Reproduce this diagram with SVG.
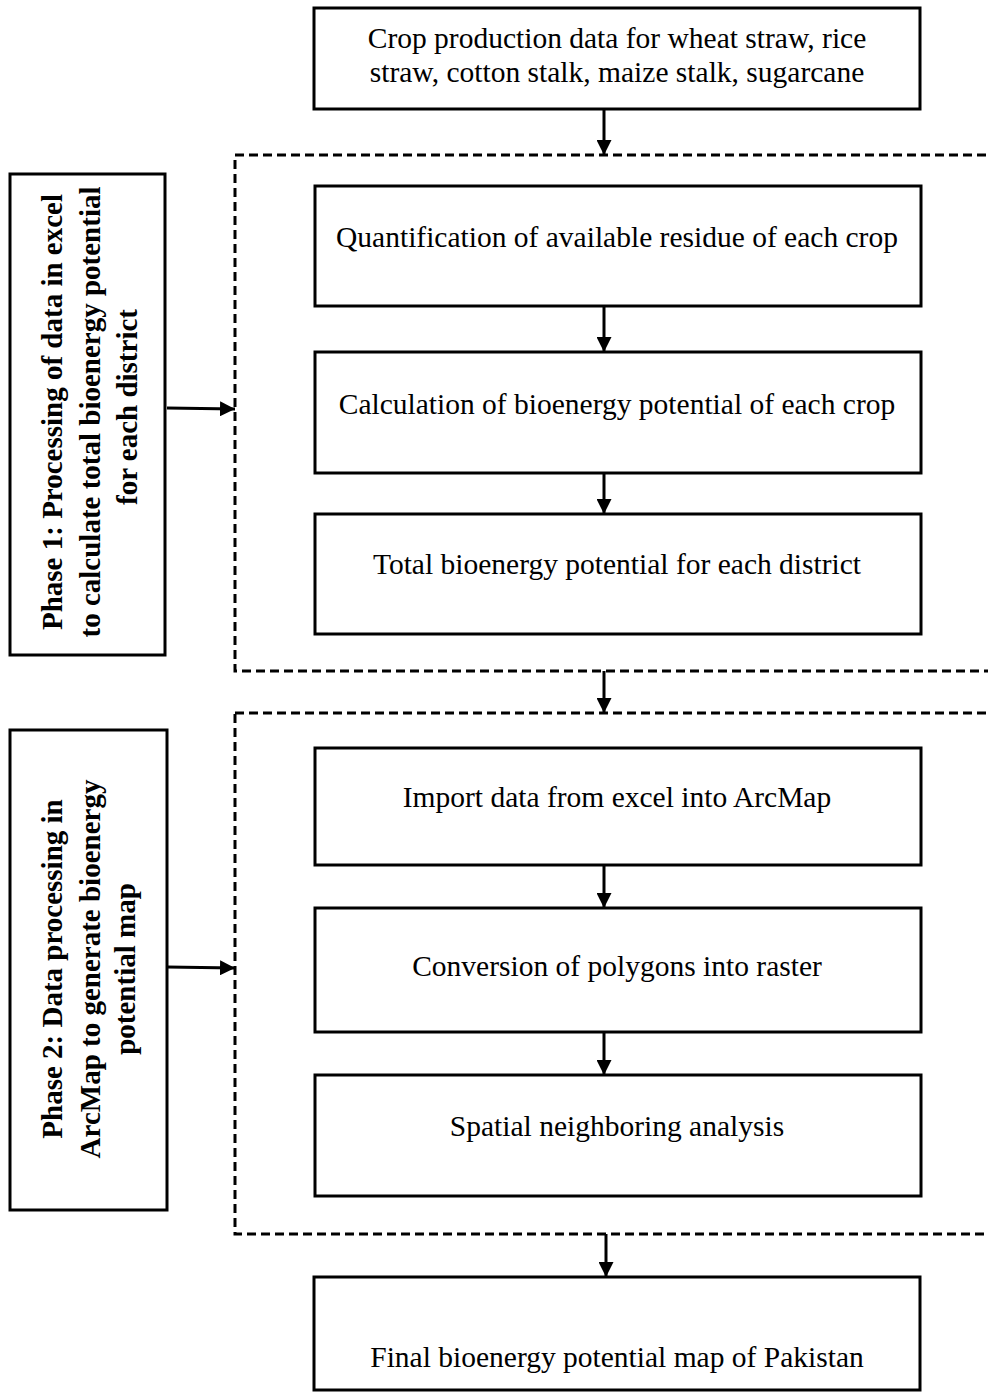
<svg xmlns="http://www.w3.org/2000/svg" width="988" height="1398" viewBox="0 0 988 1398">
<style>
.box{fill:#fff;stroke:#000;stroke-width:3}
.dash{fill:none;stroke:#000;stroke-width:3;stroke-dasharray:9 5}
.t{font-family:"Liberation Serif","Times New Roman",serif;font-size:29.5px;fill:#000;text-anchor:middle}
.b{font-family:"Liberation Serif","Times New Roman",serif;font-size:29px;font-weight:bold;fill:#000;text-anchor:middle}
.c{stroke:#000;stroke-width:3;fill:none}
</style>
<defs>
<marker id="ah" markerWidth="5" markerHeight="5" refX="5" refY="2.5" orient="auto" markerUnits="strokeWidth">
<path d="M0,0 L5,2.5 L0,5 Z" fill="#000"/>
</marker>
</defs>
<g id="group1"><rect class="dash" x="235" y="155" width="800" height="516"/></g>
<g id="group2"><rect class="dash" x="235" y="713" width="800" height="521"/></g>
<g id="n0"><rect class="box" x="314" y="8" width="606" height="101"/>
<text class="t" x="617" y="48">Crop production data for wheat straw, rice</text>
<text class="t" x="617" y="82">straw, cotton stalk, maize stalk, sugarcane</text></g>
<g id="p1"><rect class="box" x="10" y="174" width="155" height="481"/>
<text class="b" transform="translate(88,412) rotate(-90)"><tspan x="0" y="-26">Phase 1: Processing of data in excel</tspan><tspan x="0" y="12">to calculate total bioenergy potential</tspan><tspan x="5" y="49">for each district</tspan></text></g>
<g id="n1"><rect class="box" x="315" y="186" width="606" height="120"/>
<text class="t" x="617" y="247">Quantification of available residue of each crop</text></g>
<g id="n2"><rect class="box" x="315" y="352" width="606" height="121"/>
<text class="t" x="617" y="414">Calculation of bioenergy potential of each crop</text></g>
<g id="n3"><rect class="box" x="315" y="514" width="606" height="120"/>
<text class="t" x="617" y="574">Total bioenergy potential for each district</text></g>
<g id="p2"><rect class="box" x="10" y="730" width="157" height="480"/>
<text class="b" transform="translate(88,969) rotate(-90)"><tspan x="0" y="-26">Phase 2: Data processing in</tspan><tspan x="0" y="12">ArcMap to generate bioenergy</tspan><tspan x="0" y="47">potential map</tspan></text></g>
<g id="n4"><rect class="box" x="315" y="748" width="606" height="117"/>
<text class="t" x="617" y="807">Import data from excel into ArcMap</text></g>
<g id="n5"><rect class="box" x="315" y="908" width="606" height="124"/>
<text class="t" x="617" y="976">Conversion of polygons into raster</text></g>
<g id="n6"><rect class="box" x="315" y="1075" width="606" height="121"/>
<text class="t" x="617" y="1136">Spatial neighboring analysis</text></g>
<g id="n7"><rect class="box" x="314" y="1277" width="606" height="113"/>
<text class="t" x="617" y="1367">Final bioenergy potential map of Pakistan</text></g>
<g id="connectors">
<line class="c" x1="604" y1="109" x2="604" y2="155" marker-end="url(#ah)"/>
<line class="c" x1="604" y1="306" x2="604" y2="352" marker-end="url(#ah)"/>
<line class="c" x1="604" y1="473" x2="604" y2="514" marker-end="url(#ah)"/>
<line class="c" x1="604" y1="671" x2="604" y2="713" marker-end="url(#ah)"/>
<line class="c" x1="604" y1="865" x2="604" y2="908" marker-end="url(#ah)"/>
<line class="c" x1="604" y1="1032" x2="604" y2="1075" marker-end="url(#ah)"/>
<line class="c" x1="606" y1="1234" x2="606" y2="1277" marker-end="url(#ah)"/>
<line class="c" x1="167" y1="408" x2="235" y2="409" marker-end="url(#ah)"/>
<line class="c" x1="167" y1="967" x2="235" y2="968" marker-end="url(#ah)"/>
</g>
</svg>
